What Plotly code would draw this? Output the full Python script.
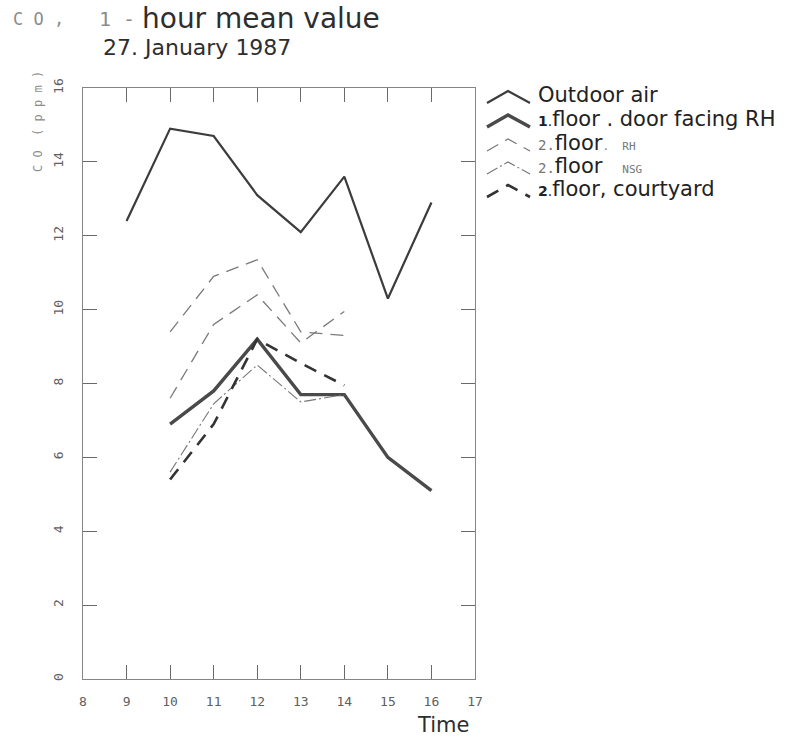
import plotly.graph_objects as go

# ---- data ----
hours_outdoor = [9, 10, 11, 12, 13, 14, 15, 16]
outdoor_air = [12.4, 14.9, 14.7, 13.1, 12.1, 13.6, 10.3, 12.9]

hours_floor1 = [10, 11, 12, 13, 14, 15, 16]
floor1_door_rh = [6.9, 7.8, 9.2, 7.7, 7.7, 6.0, 5.1]

hours_floor2 = [10, 11, 12, 13, 14]
floor2_rh_a = [9.4, 10.9, 11.35, 9.4, 9.3]
floor2_rh_b = [7.6, 9.6, 10.4, 9.1, 9.95]
floor2_nsg = [5.6, 7.45, 8.5, 7.5, 7.7]
floor2_courtyard = [5.4, 6.9, 9.2, 8.55, 7.95]

x_ticks = [8, 9, 10, 11, 12, 13, 14, 15, 16, 17]
y_ticks = [0, 2, 4, 6, 8, 10, 12, 14, 16]

MONO = "DejaVu Sans Mono"
SANS = "DejaVu Sans"
SMALL = "font-family:DejaVu Sans Mono;color:#777"

# line styles (shared by the plotted lines and the legend glyphs)
st_outdoor = dict(color="#3c3c3c", width=2.2)
st_floor1 = dict(color="#4a4a4a", width=3.4)
st_rh = dict(color="#7a7a7a", width=1.3, dash="13px,8px")
st_nsg = dict(color="#777777", width=1.1, dash="12px,3px,2px,3px")
st_court = dict(color="#333333", width=2.6, dash="13px,9px")

legend_entries = [
    ("Outdoor air", st_outdoor),
    ("<span style='font-size:14px'><b>1</b>.</span>floor . door facing RH", st_floor1),
    (f"<span style='font-size:14px;{SMALL}'>2.</span>floor"
     f"<span style='font-size:11px;{SMALL}'>.  RH</span>", st_rh),
    (f"<span style='font-size:14px;{SMALL}'>2.</span>floor"
     f"<span style='font-size:11px;{SMALL}'>   NSG</span>", st_nsg),
    ("<span style='font-size:14px'><b>2</b>.</span>floor, courtyard", st_court),
]

# plot area in pixels (used only for placing text / legend)
L, R, T, B = 83, 475, 88, 679
W, H = 801, 741


def px(xp):
    return (xp - L) / (R - L)


def py(yp):
    return (B - yp) / (B - T)


fig = go.Figure()
fig.add_trace(go.Scatter(x=hours_outdoor, y=outdoor_air, mode="lines",
                         name="Outdoor air", line=st_outdoor))
fig.add_trace(go.Scatter(x=hours_floor1, y=floor1_door_rh, mode="lines",
                         name="1.floor . door facing RH", line=st_floor1))
fig.add_trace(go.Scatter(x=hours_floor2, y=floor2_rh_a, mode="lines",
                         name="2.floor. RH", line=st_rh))
fig.add_trace(go.Scatter(x=hours_floor2, y=floor2_rh_b, mode="lines",
                         name="2.floor. RH", line=st_rh))
fig.add_trace(go.Scatter(x=hours_floor2, y=floor2_nsg, mode="lines",
                         name="2.floor NSG", line=st_nsg))
fig.add_trace(go.Scatter(x=hours_floor2, y=floor2_courtyard, mode="lines",
                         name="2.floor, courtyard", line=st_court))

axis_common = dict(
    showline=True, linecolor="#858585", linewidth=1, mirror="allticks",
    ticks="inside", ticklen=14, tickcolor="#6a6a6a", tickwidth=1,
    showgrid=False, zeroline=False, automargin=False,
    tickfont=dict(family=MONO, size=13, color="#606060"),
)
fig.update_xaxes(range=[8, 17], tickvals=x_ticks, ticktext=[str(v) for v in x_ticks],
                 ticklabelstandoff=10, **axis_common)
fig.update_yaxes(range=[0, 16], tickvals=y_ticks, ticktext=[str(v) for v in y_ticks],
                 tickangle=-90, ticklabelstandoff=14, **axis_common)

annotations = [
    dict(text="C O ,", x=px(11), y=py(19), xanchor="left", yanchor="middle",
         font=dict(family=MONO, size=17, color="#8c8c8c")),
    dict(text="1 -", x=px(97), y=py(19), xanchor="left", yanchor="middle",
         font=dict(family=MONO, size=20, color="#8c8c8c")),
    dict(text="hour mean value", x=px(140), y=py(19), xanchor="left", yanchor="middle",
         font=dict(family=SANS, size=28, color="#2e2e2e")),
    dict(text="27. January 1987", x=px(101), y=py(48), xanchor="left", yanchor="middle",
         font=dict(family=SANS, size=22, color="#2e2e2e")),
    dict(text="C O  ( p p m )", x=px(38), y=py(122), xanchor="center", yanchor="middle",
         textangle=-90, font=dict(family=MONO, size=12, color="#8c8c8c")),
    dict(text="Time", x=px(443), y=py(725), xanchor="center", yanchor="middle",
         font=dict(family=SANS, size=21, color="#2e2e2e")),
]

shapes = []
row_text_y = [95, 119, 143, 166, 189]
for (label, st), ty in zip(legend_entries, row_text_y):
    annotations.append(dict(text=label, x=px(537), y=py(ty), xanchor="left",
                            yanchor="middle", borderpad=0,
                            font=dict(family=SANS, size=21, color="#222222")))
    base, apex = ty + 8, ty - 4
    shapes.append(dict(
        type="path", xref="paper", yref="paper",
        path=f"M {px(487)} {py(base)} L {px(508)} {py(apex)} L {px(530)} {py(base)}",
        line=st))

for a in annotations:
    a.update(xref="paper", yref="paper", showarrow=False)

fig.update_layout(
    width=W, height=H,
    margin=dict(l=L, r=W - R, t=T, b=H - B),
    paper_bgcolor="white", plot_bgcolor="white",
    showlegend=False,
    annotations=annotations,
    shapes=shapes,
)

fig.write_html("out.html", config={"displayModeBar": False},
               post_script="document.body.style.margin='0px';")
